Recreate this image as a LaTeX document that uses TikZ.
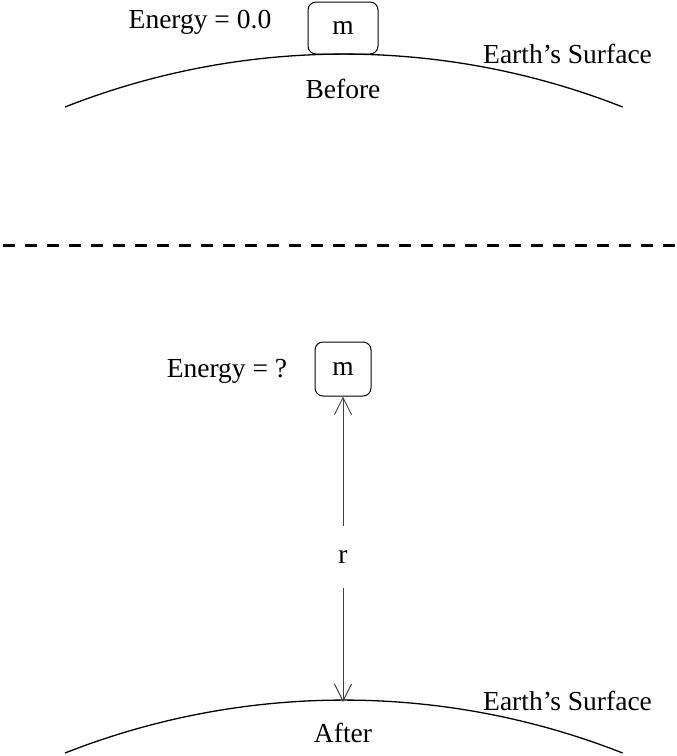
\documentclass[tikz,border=0pt]{standalone}
\usepackage{fontspec}
\setmainfont{Liberation Serif}
\usetikzlibrary{arrows.meta,positioning}

\begin{document}
\begin{tikzpicture}[x=1pt,y=-1pt,font=\fontsize{27.5}{33}\selectfont,
  mass/.style={draw,line width=1pt,rounded corners=8pt,inner sep=0pt},
  lbl/.style={anchor=base,inner sep=0pt},
  surf/.style={line width=1.3pt},
  a/.style={{Straight Barb[length=17pt,width=17pt]}-,line width=1pt,draw=black!75}]
  \useasboundingbox (0,0) rectangle (677,756);
  % before: mass resting on the surface
  \node[mass,minimum width=70,minimum height=52](ma) at (343,28){m};
  \node[lbl](ea) at (200,28){Energy = 0.0};
  \draw[surf] (65,107) arc[start angle=248.5,end angle=291.5,radius=760.8];
  \coordinate (sa) at (343,54);
  \node[lbl,anchor=base west](ta) at (483,63){Earth's Surface};
  \node[lbl](ba) at (343,98){Before};
  % separator
  \draw[line width=3pt,dash pattern=on 12pt off 10pt] (3,245) -- (677,245);
  % after: mass lifted to distance r
  \node[mass,minimum width=56,minimum height=54](mb) at (343,369){m};
  \node[lbl](eb) at (227,377){Energy = ?};
  \draw[surf] (65,753) arc[start angle=248.5,end angle=291.5,radius=760.8];
  \coordinate (sb) at (343,702);
  \node[lbl,anchor=base west](tb) at (483,710){Earth's Surface};
  \node[lbl](bb) at (343,742){After};
  \node[inner sep=0pt,minimum height=62](r) at (343,557){r};
  \draw[a] (mb.south) -- (r.north);
  \draw[a] (sb) -- (r.south);
\end{tikzpicture}
\end{document}
